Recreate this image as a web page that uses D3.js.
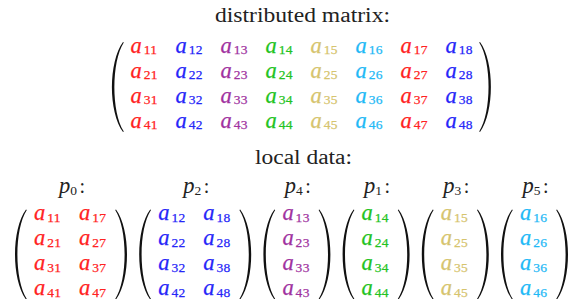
<!DOCTYPE html>
<html><head><meta charset="utf-8">
<script src="https://cdn.jsdelivr.net/npm/d3@7"></script>
<style>
body{margin:0;background:#fff}
svg{display:block}
svg text{font-family:"Liberation Serif","Times New Roman",serif}
</style></head>
<body>
<script>
// ---- data ----
const rowIdx = [1, 2, 3, 4];
const colIdx = [1, 2, 3, 4, 5, 6, 7, 8];
const colColors = ["#ff2222", "#2626f8", "#a032a0", "#22c322", "#d6c46e", "#1fb9f6", "#ff2222", "#2626f8"];
const titleText = "distributed matrix:";
const subtitleText = "local data:";
const procIds = [0, 2, 4, 1, 3, 5];
const procCols = [[1, 7], [2, 8], [3], [4], [5], [6]];

// ---- layout ----
const W = 571, H = 299;
const svg = d3.select("body").append("svg").attr("width", W).attr("height", H);

const colStep = 45;
const xBig = d3.scaleLinear().domain([1, 8]).range([130.5, 130.5 + 7 * colStep]);
const yBig = d3.scaleLinear().domain([1, 4]).range([52.5, 127.5]);
const ySmall = d3.scaleLinear().domain([1, 4]).range([220, 295]);

function paren(g, x, top, bot, side) {
  const w = 11 * side, h = bot - top;
  const xe = x + w;
  const cx = (x - 0.25 * xe) / 0.75;
  const t = 2.4 * side, te = 0.8 * side;
  const cxi = ((x + t) - 0.25 * (xe + te)) / 0.75;
  const p = d3.path();
  p.moveTo(xe, top);
  p.bezierCurveTo(cx, top + 0.22 * h, cx, bot - 0.22 * h, xe, bot);
  p.lineTo(xe + te, bot - 0.5);
  p.bezierCurveTo(cxi, bot - 0.22 * h, cxi, top + 0.22 * h, xe + te, top + 0.5);
  p.closePath();
  g.append("path").attr("d", p.toString()).attr("fill", "#111");
}

function entry(g, x, y, r, c) {
  const col = colColors[c - 1];
  const t = g.append("text").attr("x", x).attr("y", y).attr("font-size", 22.5)
    .attr("fill", col).attr("stroke", col).attr("stroke-width", 0.25);
  t.append("tspan").attr("font-style", "italic").text("a");
  t.append("tspan").attr("x", x + 13.2).attr("dy", 1.6).attr("font-size", 13.5)
    .attr("letter-spacing", 0.3).text(`${r}${c}`);
}

// title
svg.append("text").attr("x", 302.5).attr("y", 22).attr("text-anchor", "middle")
  .attr("font-size", 20).attr("fill", "#222")
  .attr("textLength", 175).attr("lengthAdjust", "spacingAndGlyphs").text(titleText);

// big matrix
const gBig = svg.append("g");
rowIdx.forEach(r => colIdx.forEach(c => entry(gBig, xBig(c), yBig(r), r, c)));
paren(gBig, xBig(1) - 18.5, yBig(1) - 10.5, yBig(4) + 4.5, 1);
paren(gBig, xBig(8) + 45.5, yBig(1) - 10.5, yBig(4) + 4.5, -1);

// subtitle
svg.append("text").attr("x", 303.5).attr("y", 164).attr("text-anchor", "middle")
  .attr("font-size", 20).attr("fill", "#222")
  .attr("textLength", 97).attr("lengthAdjust", "spacingAndGlyphs").text(subtitleText);

// local blocks
const gap = 12.2;
let cursor = 15;
procIds.forEach((pid, i) => {
  const cols = procCols[i];
  const width = 19 + colStep * (cols.length - 1) + 36 + 12;
  const g = svg.append("g");
  const xs = d3.scaleLinear().domain([0, 1]).range([cursor + 19, cursor + 19 + colStep]);
  rowIdx.forEach(r => cols.forEach((c, k) => entry(g, xs(k), ySmall(r), r, c)));
  paren(g, cursor, ySmall(1) - 10.5, ySmall(4) + 4.5, 1);
  paren(g, cursor + width, ySmall(1) - 10.5, ySmall(4) + 4.5, -1);
  const cxm = cursor + width / 2 + 1;
  const lt = g.append("text").attr("x", cxm).attr("y", 193).attr("text-anchor", "middle")
    .attr("font-size", 22.5).attr("fill", "#222");
  lt.append("tspan").attr("font-style", "italic").text("p");
  lt.append("tspan").attr("font-size", 13.5).attr("dy", 1.6).text(pid);
  lt.append("tspan").attr("font-size", 20).attr("dy", -1.6).attr("dx", 2.5).text(":");
  cursor += width + gap;
});
</script>
</body></html>
